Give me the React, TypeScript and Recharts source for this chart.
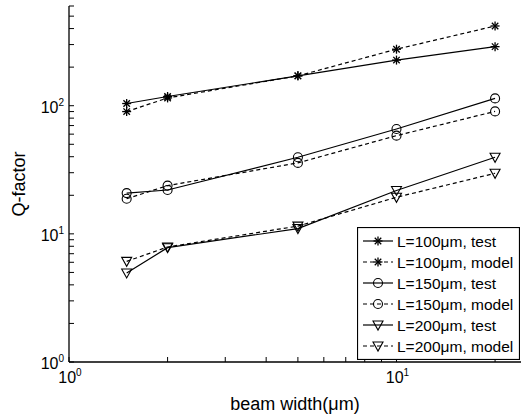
import { LineChart, Line, XAxis, YAxis, Legend } from 'recharts'

const beamWidth = [1.5, 2, 5, 10, 20]
const l100Test = [104, 118, 171, 227, 289]
const l100Model = [90, 115, 171, 276, 419]
const l150Test = [20.8, 22.0, 39.6, 65.8, 114]
const l150Model = [18.8, 23.8, 35.8, 58.4, 90.3]
const l200Test = [4.95, 7.8, 11.0, 21.8, 39.6]
const l200Model = [6.1, 7.9, 11.5, 19.3, 29.7]

const xTicks = [1, 2, 3, 4, 5, 6, 7, 8, 9, 10, 20]
const yTicks = [1, 2, 3, 4, 5, 6, 7, 8, 9, 10, 20, 30, 40, 50, 60, 70, 80, 90, 100, 200, 300, 400, 500, 600]

const FONT = '"Liberation Sans", Arial, Helvetica, sans-serif'

type MarkerType = 'star' | 'circle' | 'tri'

const series: { key: string; name: string; dashed: boolean; marker: MarkerType }[] = [
  { key: 'l100Test', name: 'L=100μm, test', dashed: false, marker: 'star' },
  { key: 'l100Model', name: 'L=100μm, model', dashed: true, marker: 'star' },
  { key: 'l150Test', name: 'L=150μm, test', dashed: false, marker: 'circle' },
  { key: 'l150Model', name: 'L=150μm, model', dashed: true, marker: 'circle' },
  { key: 'l200Test', name: 'L=200μm, test', dashed: false, marker: 'tri' },
  { key: 'l200Model', name: 'L=200μm, model', dashed: true, marker: 'tri' },
]

const rows = beamWidth.map((w, i) => ({
  w,
  l100Test: l100Test[i],
  l100Model: l100Model[i],
  l150Test: l150Test[i],
  l150Model: l150Model[i],
  l200Test: l200Test[i],
  l200Model: l200Model[i],
}))

function Marker({ type, cx, cy }: { type: MarkerType; cx: number; cy: number }) {
  if (type === 'circle') {
    return <circle cx={cx} cy={cy} r={4.5} fill="none" stroke="#000" strokeWidth={1.1} />
  }
  if (type === 'tri') {
    const pts = `${cx - 5},${cy - 4} ${cx + 5},${cy - 4} ${cx},${cy + 5}`
    return <polygon points={pts} fill="none" stroke="#000" strokeWidth={1.1} />
  }
  const r = 4.5
  const d = r * 0.72
  return (
    <g stroke="#000" strokeWidth={1.3}>
      <line x1={cx - r} y1={cy} x2={cx + r} y2={cy} />
      <line x1={cx} y1={cy - r} x2={cx} y2={cy + r} />
      <line x1={cx - d} y1={cy - d} x2={cx + d} y2={cy + d} />
      <line x1={cx - d} y1={cy + d} x2={cx + d} y2={cy - d} />
    </g>
  )
}

const isDecade = (v: number) => Number.isInteger(Math.log10(v))

function BottomTick(props: any) {
  const { x, y, payload } = props
  const v = payload.value
  return (
    <g>
      <line x1={x} y1={y} x2={x} y2={y - 5} stroke="#000" />
      {isDecade(v) && (
        <text x={x + 1} y={y + 21} textAnchor="middle" fontSize={16} fontFamily={FONT} fill="#000">
          10<tspan dy={-7} fontSize={10}>{Math.log10(v)}</tspan>
        </text>
      )}
    </g>
  )
}

function TopTick(props: any) {
  const { x, y } = props
  return <line x1={x} y1={y} x2={x} y2={y + 5} stroke="#000" />
}

function LeftTick(props: any) {
  const { x, y, payload } = props
  const v = payload.value
  return (
    <g>
      <line x1={x} y1={y} x2={x + 5} y2={y} stroke="#000" />
      {isDecade(v) && (
        <text x={x - 5} y={y + 7} textAnchor="end" fontSize={16} fontFamily={FONT} fill="#000">
          10<tspan dy={-7} fontSize={10}>{Math.log10(v)}</tspan>
        </text>
      )}
    </g>
  )
}

function RightTick(props: any) {
  const { x, y } = props
  return <line x1={x} y1={y} x2={x - 5} y2={y} stroke="#000" />
}

function LegendBox() {
  const w = 163
  const h = 133
  return (
    <svg width={w} height={h} style={{ display: 'block' }}>
      <rect x={0.5} y={0.5} width={w - 1} height={h - 1} fill="#fff" stroke="#000" strokeWidth={1.2} />
      {series.map((s, i) => {
        const cy = 14 + i * 21
        return (
          <g key={s.key}>
            <line
              x1={6}
              y1={cy}
              x2={36}
              y2={cy}
              stroke="#000"
              strokeWidth={1.2}
              strokeDasharray={s.dashed ? '4 3' : undefined}
            />
            <Marker type={s.marker} cx={21} cy={cy} />
            <text x={40} y={cy + 5.5} fontSize={15.5} fontFamily={FONT} fill="#000">
              {s.name}
            </text>
          </g>
        )
      })}
    </svg>
  )
}

export default function App() {
  return (
    <div style={{ position: 'absolute', left: 0, top: 0, width: 522, height: 418, background: '#fff' }}>
      <LineChart width={522} height={418} data={rows} margin={{ top: 6, right: 1, bottom: 16, left: 0 }}>
        <XAxis
          dataKey="w"
          type="number"
          scale="log"
          domain={[1, 24]}
          allowDataOverflow
          ticks={xTicks}
          interval={0}
          tickSize={0}
          tickMargin={0}
          tick={BottomTick}
          height={40}
          axisLine={{ stroke: '#000', strokeWidth: 1.3 }}
          label={{ value: 'beam width(μm)', position: 'insideBottom', offset: -8, fontSize: 18, fontFamily: FONT, fill: '#000' }}
        />
        <XAxis
          xAxisId="top"
          orientation="top"
          type="number"
          scale="log"
          domain={[1, 24]}
          allowDataOverflow
          ticks={xTicks}
          interval={0}
          tickSize={0}
          tickMargin={0}
          tick={TopTick}
          height={0}
          axisLine={{ stroke: '#000', strokeWidth: 1.3 }}
        />
        <YAxis
          type="number"
          scale="log"
          domain={[1, 600]}
          allowDataOverflow
          ticks={yTicks}
          interval={0}
          tickSize={0}
          tickMargin={0}
          tick={LeftTick}
          width={69}
          axisLine={{ stroke: '#000', strokeWidth: 1.3 }}
          label={{ value: 'Q-factor', angle: -90, position: 'insideLeft', offset: 19, fontSize: 18, fontFamily: FONT, fill: '#000', style: { textAnchor: 'middle' } }}
        />
        <YAxis
          yAxisId="right"
          orientation="right"
          type="number"
          scale="log"
          domain={[1, 600]}
          allowDataOverflow
          ticks={yTicks}
          interval={0}
          tickSize={0}
          tickMargin={0}
          tick={RightTick}
          width={0}
          axisLine={{ stroke: '#000', strokeWidth: 1.3 }}
        />
        {series.map((s) => (
          <Line
            key={s.key}
            dataKey={s.key}
            name={s.name}
            type="linear"
            stroke="#000"
            strokeWidth={1.2}
            strokeDasharray={s.dashed ? '4 3' : undefined}
            isAnimationActive={false}
            dot={(p: any) => <Marker key={`${s.key}-${p.index}`} type={s.marker} cx={p.cx} cy={p.cy} />}
            activeDot={false}
          />
        ))}
        <Legend
          layout="horizontal"
          verticalAlign="middle"
          align="center"
          content={() => <LegendBox />}
          wrapperStyle={{ left: 357, top: 227, width: 163, height: 133 }}
        />
      </LineChart>
    </div>
  )
}
